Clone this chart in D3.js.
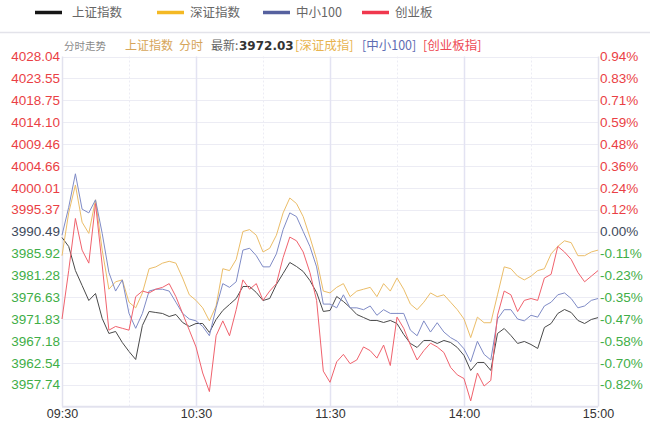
<!DOCTYPE html>
<html><head><meta charset="utf-8">
<script src="https://cdn.jsdelivr.net/npm/d3@7/dist/d3.min.js"></script>
<style>html,body{margin:0;padding:0;background:#fff;} svg{display:block;}</style>
</head><body><svg id="c" width="650" height="423"></svg>
<script>
// ---------------- DATA ----------------
const prevClose = 3990.49;       // 上证指数 昨收
const lastPrice = "3972.03";
const minutes = [0,3,6,9,12,15,18,21,24,27,30,33,36,39,42,45,48,51,54,57,60,63,66,69,72,75,78,81,84,87,90,93,96,99,102,105,108,111,114,117,120,123,126,129,132,135,138,141,144,147,150,153,156,159,162,165,168,171,174,177,180,183,186,189,192,195,198,201,204,207,210,213,216,219,222,225,228,231,234,237,240];
// 上证指数 (index points)
const shValues = [3989.20,3987.28,3982.13,3978.92,3975.70,3977.20,3971.85,3968.63,3969.06,3966.70,3964.77,3963.06,3970.35,3973.35,3973.13,3972.92,3972.27,3972.70,3970.99,3970.13,3970.77,3970.77,3968.85,3971.63,3973.56,3974.85,3976.13,3978.70,3978.70,3977.42,3975.70,3976.13,3979.13,3981.49,3983.85,3982.99,3981.92,3979.99,3977.42,3973.35,3973.56,3976.56,3975.49,3974.20,3972.70,3972.06,3971.42,3971.42,3970.99,3971.42,3970.77,3968.42,3966.49,3965.63,3967.13,3967.13,3966.49,3967.13,3966.70,3965.63,3963.92,3960.70,3962.42,3962.42,3960.70,3968.63,3969.70,3968.20,3966.49,3966.92,3966.27,3965.42,3969.92,3970.77,3972.92,3973.77,3973.13,3971.42,3970.77,3971.63,3972.03];
// 深证指数 (% change)
const szPct = [-0.13,0.10,0.25,0.05,-0.01,0.17,-0.10,-0.31,-0.27,-0.26,-0.38,-0.41,-0.33,-0.20,-0.19,-0.17,-0.16,-0.17,-0.25,-0.34,-0.37,-0.41,-0.48,-0.40,-0.20,-0.21,-0.15,0.00,0.01,-0.02,-0.11,-0.09,-0.02,0.10,0.18,0.15,0.08,-0.03,-0.15,-0.32,-0.33,-0.30,-0.28,-0.35,-0.32,-0.31,-0.30,-0.35,-0.28,-0.32,-0.25,-0.31,-0.39,-0.42,-0.38,-0.33,-0.35,-0.34,-0.38,-0.42,-0.47,-0.57,-0.46,-0.49,-0.49,-0.34,-0.19,-0.20,-0.24,-0.26,-0.24,-0.21,-0.20,-0.12,-0.08,-0.05,-0.06,-0.13,-0.13,-0.11,-0.10];
// 中小100 (% change)
const zxPct = [-0.02,0.13,0.31,0.12,0.10,0.17,-0.01,-0.22,-0.32,-0.26,-0.44,-0.52,-0.44,-0.32,-0.31,-0.31,-0.32,-0.38,-0.44,-0.47,-0.48,-0.51,-0.56,-0.41,-0.28,-0.30,-0.27,-0.10,-0.09,-0.13,-0.19,-0.19,-0.12,0.01,0.10,0.08,0.00,-0.08,-0.19,-0.39,-0.39,-0.41,-0.34,-0.41,-0.41,-0.42,-0.40,-0.45,-0.42,-0.44,-0.44,-0.44,-0.53,-0.56,-0.48,-0.54,-0.49,-0.54,-0.57,-0.59,-0.63,-0.70,-0.59,-0.66,-0.69,-0.47,-0.42,-0.42,-0.47,-0.48,-0.45,-0.46,-0.40,-0.38,-0.34,-0.33,-0.36,-0.41,-0.40,-0.37,-0.36];
// 创业板 (% change)
const cybPct = [-0.47,-0.21,0.07,-0.10,-0.17,0.15,-0.18,-0.53,-0.51,-0.52,-0.53,-0.35,-0.32,-0.33,-0.31,-0.30,-0.28,-0.35,-0.44,-0.53,-0.62,-0.76,-0.86,-0.56,-0.48,-0.56,-0.42,-0.26,-0.31,-0.28,-0.37,-0.32,-0.28,-0.14,-0.03,-0.05,-0.11,-0.22,-0.37,-0.75,-0.81,-0.70,-0.66,-0.71,-0.69,-0.62,-0.64,-0.68,-0.61,-0.72,-0.46,-0.52,-0.61,-0.69,-0.64,-0.60,-0.62,-0.65,-0.73,-0.77,-0.79,-0.91,-0.76,-0.83,-0.80,-0.45,-0.32,-0.34,-0.43,-0.37,-0.36,-0.37,-0.25,-0.23,-0.08,-0.11,-0.15,-0.22,-0.27,-0.24,-0.21];

const seriesNames = ["上证指数","深证指数","中小100","创业板"];
const leftTickLabels = ["4028.04","4023.55","4018.75","4014.10","4009.46","4004.66","4000.01","3995.37","3990.49","3985.92","3981.28","3976.63","3971.83","3967.18","3962.54","3957.74"];
const rightTickLabels = ["0.94%","0.83%","0.71%","0.59%","0.48%","0.36%","0.24%","0.12%","0.00%","-0.11%","-0.23%","-0.35%","-0.47%","-0.58%","-0.70%","-0.82%"];
const timeTicks = [0,60,120,180,240];
const timeLabels = ["09:30","10:30","11:30","14:00","15:00"];
const halfHourTicks = [30,90,150,210];
const maxPct = 0.94;

// ---------------- STYLE ----------------
const lineColors = ["#4a4a4a","#ebbd68","#7f8bc6","#f0626d"];
const legendColors = ["#161616","#f4b924","#56619f","#f0384e"];
const up = "#ea3f45", flat = "#3e4a5b", down = "#3fae47";
const numFont = "'Liberation Sans', Arial, sans-serif";
const cjkFont = "'Noto Sans CJK SC', sans-serif";

const svg = d3.select("#c");
svg.append("rect").attr("width",650).attr("height",423).attr("fill","#fff");

const x = d3.scaleLinear().domain([0,240]).range([62,598]);
const y = d3.scaleLinear().domain([-maxPct,maxPct]).range([406.5,56.5]);

// top separator
svg.append("line").attr("x1",0).attr("x2",650).attr("y1",32.5).attr("y2",32.5)
  .attr("stroke","#e3e3ea").attr("stroke-width",1.5);

// horizontal grid
const gridVals = d3.range(17).map(k => maxPct - k*maxPct/8);
svg.append("g").selectAll("line").data(gridVals).join("line")
  .attr("x1",x(0)).attr("x2",x(240)).attr("y1",d=>Math.round(y(d))+0.5).attr("y2",d=>Math.round(y(d))+0.5)
  .attr("stroke","#ececf4").attr("stroke-width",1);

// vertical grid
svg.append("g").selectAll("line").data(halfHourTicks).join("line")
  .attr("x1",d=>Math.round(x(d))+0.5).attr("x2",d=>Math.round(x(d))+0.5)
  .attr("y1",y(maxPct)).attr("y2",y(-maxPct))
  .attr("stroke","#ececf4").attr("stroke-dasharray","2,2");
svg.append("g").selectAll("line").data([60,120,180]).join("line")
  .attr("x1",d=>Math.round(x(d))+0.5).attr("x2",d=>Math.round(x(d))+0.5)
  .attr("y1",y(maxPct)).attr("y2",y(-maxPct))
  .attr("stroke","#e3e3f2").attr("stroke-width",1.5);
// frame left/right/bottom
svg.append("g").selectAll("line").data([0,240]).join("line")
  .attr("x1",d=>Math.round(x(d))+0.5).attr("x2",d=>Math.round(x(d))+0.5)
  .attr("y1",y(maxPct)).attr("y2",y(-maxPct))
  .attr("stroke","#e2e2ee").attr("stroke-width",1.5);
svg.append("line").attr("x1",x(0)).attr("x2",x(240)).attr("y1",y(-maxPct)).attr("y2",y(-maxPct))
  .attr("stroke","#e2e2ee").attr("stroke-width",1.5);

// axes
const tickPos = gridVals.slice(0,16);
const colorFor = i => i < 8 ? up : (i === 8 ? flat : down);
const gL = svg.append("g").attr("transform","translate(61,0)")
  .call(d3.axisLeft(y).tickValues(tickPos).tickFormat((d,i)=>leftTickLabels[i]).tickSize(0).tickPadding(1));
gL.select(".domain").remove();
gL.selectAll("text").attr("font-family",numFont).attr("font-size",13.5).attr("fill",(d,i)=>colorFor(i));

const gR = svg.append("g").attr("transform","translate(599,0)")
  .call(d3.axisRight(y).tickValues(tickPos).tickFormat((d,i)=>rightTickLabels[i]).tickSize(0).tickPadding(1));
gR.select(".domain").remove();
gR.selectAll("text").attr("font-family",numFont).attr("font-size",13.5).attr("fill",(d,i)=>colorFor(i));

const gB = svg.append("g").attr("transform",`translate(0,${y(-maxPct)})`)
  .call(d3.axisBottom(x).tickValues(timeTicks).tickFormat((d,i)=>timeLabels[i]).tickSize(0).tickPadding(3));
gB.select(".domain").remove();
gB.selectAll("text").attr("font-family",numFont).attr("font-size",12.5).attr("fill","#333");

// series
const shPct = shValues.map(v => (v/prevClose - 1)*100);
const allSeries = [shPct, szPct, zxPct, cybPct];
const line = d3.line().x((d,i)=>x(minutes[i])).y(d=>y(d));
svg.append("g").selectAll("path").data(allSeries).join("path")
  .attr("d", d=>line(d)).attr("fill","none")
  .attr("stroke",(d,i)=>lineColors[i]).attr("stroke-width",1).attr("stroke-linejoin","round");

// legend
const legendX = [35,157,263,362];
const lg = svg.append("g").selectAll("g").data(seriesNames).join("g")
  .attr("transform",(d,i)=>`translate(${legendX[i]},12.5)`);
lg.append("line").attr("x1",0).attr("x2",27).attr("y1",0).attr("y2",0)
  .attr("stroke",(d,i)=>legendColors[i]).attr("stroke-width",3.5);
lg.append("text").attr("x",(d,i)=> i===0?37:33).attr("dy","0.35em").text(d=>d)
  .attr("font-family",cjkFont).attr("font-size",12.5).attr("fill","#666");

// title row
const title = [
  {t:"分时走势", x:64, c:"#8a8a8a", f:cjkFont, s:10.5, w:400},
  {t:"上证指数", x:125, c:"#d6a55a", f:cjkFont, s:12, w:400},
  {t:"分时", x:179, c:"#d6a55a", f:cjkFont, s:12, w:400},
  {t:"最新:", x:211, c:"#666", f:cjkFont, s:12, w:400},
  {t:lastPrice, x:239, c:"#333", f:"'DejaVu Sans', sans-serif", s:12, w:700},
  {t:"[深证成指]", x:295, c:"#e8b450", f:cjkFont, s:12.5, w:400},
  {t:"[中小100]", x:362, c:"#5f6db3", f:cjkFont, s:12.5, w:400},
  {t:"[创业板指]", x:423, c:"#ee4a55", f:cjkFont, s:12.5, w:400}
];
svg.append("g").selectAll("text").data(title).join("text")
  .attr("x",d=>d.x).attr("y",46).attr("dy","0.35em").text(d=>d.t)
  .attr("font-family",d=>d.f).attr("font-size",d=>d.s).attr("font-weight",d=>d.w).attr("fill",d=>d.c);
</script></body></html>
